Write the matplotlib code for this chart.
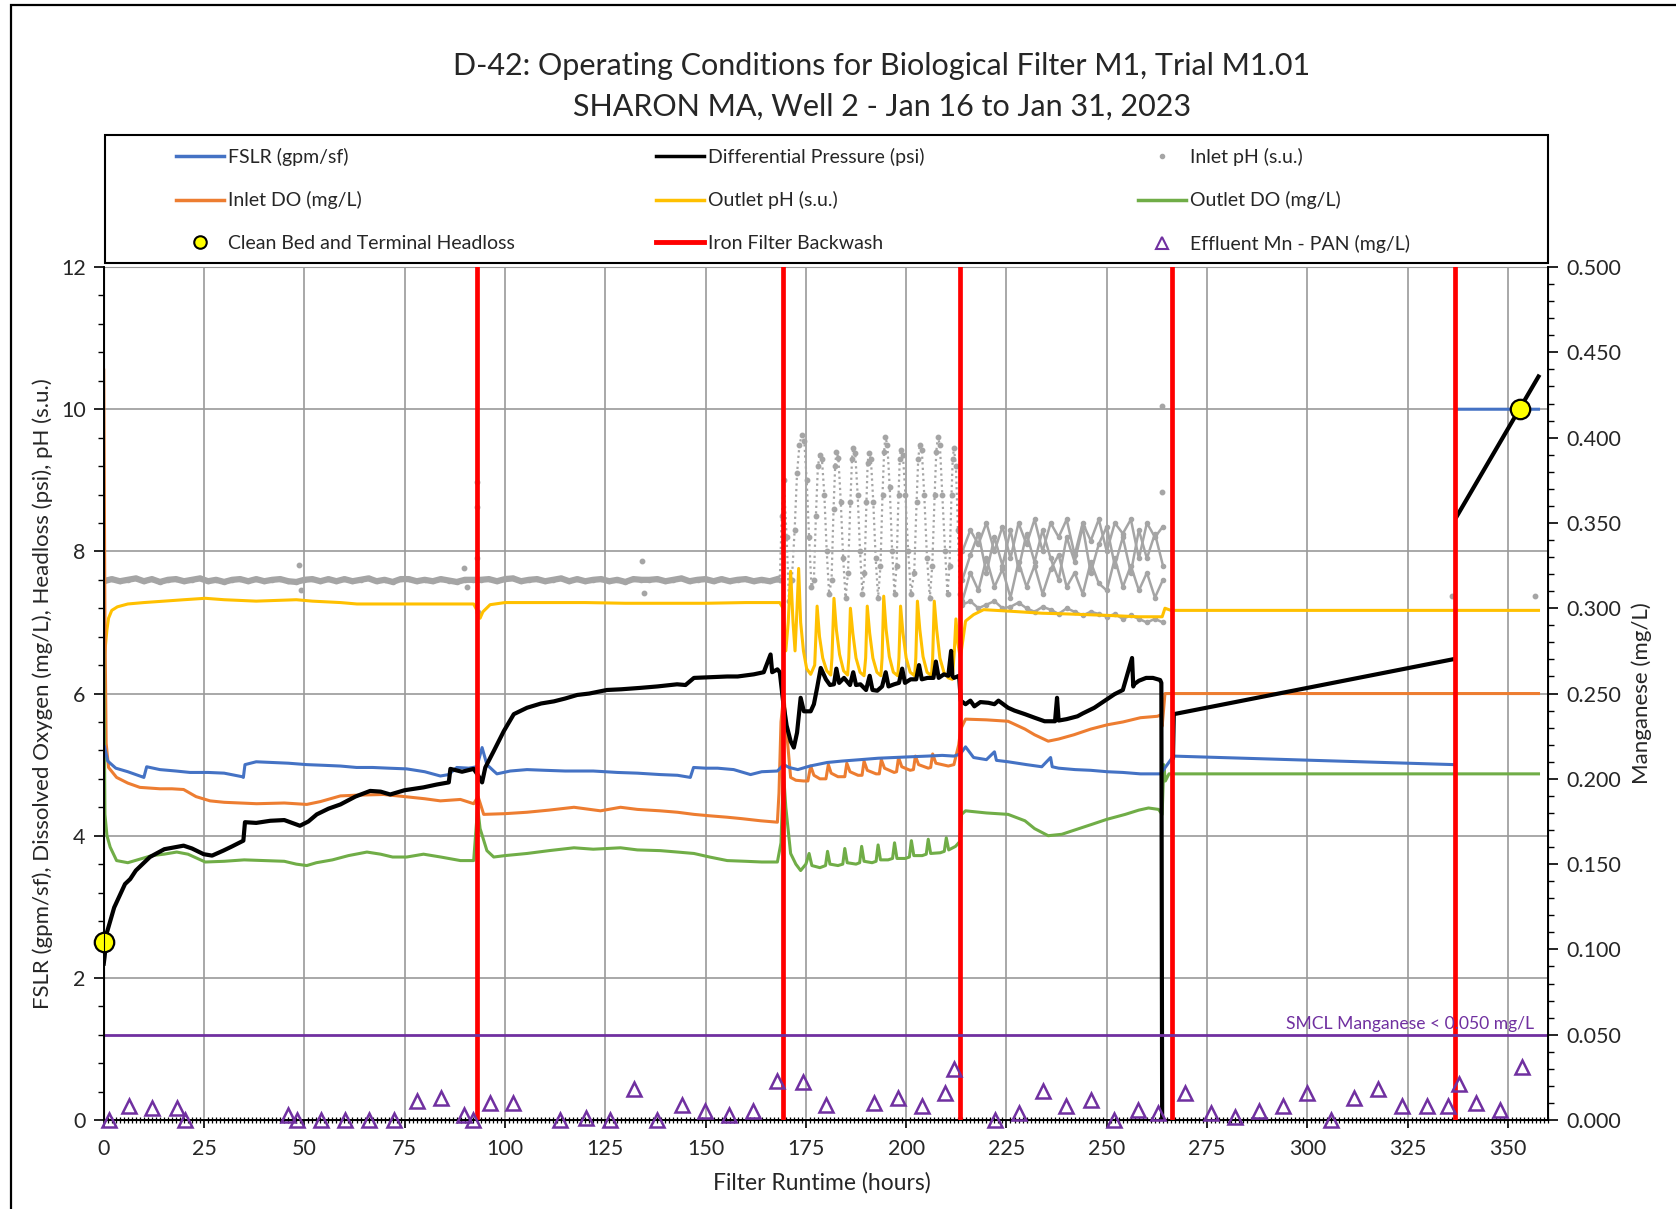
import numpy as np
import matplotlib
matplotlib.use("Agg")
from matplotlib import pyplot as plt
from matplotlib.lines import Line2D
from matplotlib.patches import Rectangle
from matplotlib.ticker import MultipleLocator, FormatStrFormatter

plt.rcParams['font.family'] = ['Lato', 'DejaVu Sans']

# ---- readings (hours, value) ----
fslr_h = [0.2, 1, 3, 6, 9.5, 10, 10.7, 14, 18, 21.5, 26, 30, 34.5, 34.8, 35.2, 38, 42, 46, 50.6, 55, 59, 63, 67, 71, 75.5, 80, 83.9, 86, 88, 91, 93, 94.3, 95.5, 97.2, 98, 101.3, 105.5, 110, 115, 122, 128, 133, 138.7, 143, 146.2, 147, 150, 153, 157, 161.2, 164, 167.9, 169.5, 170.8, 173, 176, 180.3, 184, 188.6, 193, 197, 201, 205.3, 209, 211.9, 213.5, 214.8, 216.8, 220, 222, 222.5, 225.4, 230, 233.8, 236, 236.4, 238, 242.1, 246, 250.1, 254, 258.4, 263.4, 263.8, 266.6, 336.6, np.nan, 337.2, 357.6]
fslr_v = [5.25, 5.05, 4.95, 4.9, 4.83, 4.82, 4.97, 4.93, 4.91, 4.89, 4.89, 4.88, 4.83, 4.82, 5.0, 5.04, 5.03, 5.02, 5.0, 4.99, 4.98, 4.96, 4.96, 4.95, 4.94, 4.9, 4.84, 4.86, 4.96, 4.95, 4.97, 5.24, 5.0, 4.91, 4.87, 4.91, 4.93, 4.92, 4.91, 4.91, 4.89, 4.88, 4.86, 4.85, 4.82, 4.96, 4.95, 4.95, 4.93, 4.86, 4.9, 4.91, 5.0, 4.96, 4.93, 4.98, 5.03, 5.05, 5.07, 5.09, 5.1, 5.11, 5.12, 5.13, 5.12, 5.15, 5.25, 5.1, 5.07, 5.18, 5.06, 5.04, 5.0, 4.97, 5.1, 4.97, 4.95, 4.93, 4.92, 4.9, 4.89, 4.87, 4.87, 4.9, 5.12, 5.0, np.nan, 10.0, 10.0]

dp_h = [0, 0.2, 0.8, 2.6, 5.3, 6.6, 8, 11.5, 15.1, 19.9, 22, 24.9, 27, 29.8, 32, 34.8, 35.2, 38, 41.5, 45, 48.9, 51, 53.1, 56, 59, 62.7, 66.4, 69, 71.4, 75, 79.7, 83, 86, 86.4, 89.3, 92.2, 93.3, 94.3, 95.1, 97.2, 99.7, 102.2, 105.5, 109, 112.2, 115, 118, 121, 125.4, 129, 133.8, 138, 142.9, 145, 147.1, 151, 155.4, 158, 162, 164.5, 166.2, 166.6, 167.9, 168.5, 169.3, 170.2, 171.2, 172, 172.8, 173.7, 174.5, 176.2, 177, 177.8, 178.7, 180, 181, 182, 182.6, 183.3, 184.5, 186, 186.8, 187.5, 188.6, 190, 190.9, 191.6, 192.8, 194, 194.9, 195.6, 197, 198.2, 199, 199.7, 201.1, 202.5, 203.2, 203.9, 205.3, 206.8, 207.4, 208.1, 209.4, 210.5, 211.2, 211.5, 211.9, 213.2, 213.6, 214.8, 216, 217, 218.5, 220.5, 222, 223, 225.4, 227, 229.6, 232, 234.5, 237.1, 237.6, 238, 240, 242.7, 244, 246.9, 249, 251.9, 254, 256.3, 256.6, 256.8, 258, 259.8, 261.5, 263.3, 263.6, 263.8, np.nan, 266.5, 266.7, 336.1, np.nan, 337.2, 357.6]
dp_v = [2.2, 2.29, 2.64, 2.99, 3.32, 3.39, 3.51, 3.7, 3.81, 3.86, 3.82, 3.74, 3.72, 3.79, 3.85, 3.93, 4.19, 4.18, 4.21, 4.22, 4.14, 4.2, 4.3, 4.38, 4.44, 4.55, 4.63, 4.62, 4.58, 4.64, 4.68, 4.72, 4.75, 4.94, 4.9, 4.94, 4.85, 4.75, 4.96, 5.19, 5.47, 5.71, 5.8, 5.86, 5.89, 5.93, 5.98, 6.0, 6.05, 6.06, 6.08, 6.1, 6.13, 6.12, 6.22, 6.23, 6.24, 6.24, 6.27, 6.3, 6.55, 6.3, 6.34, 6.3, 5.9, 5.55, 5.33, 5.24, 5.45, 5.94, 5.75, 5.75, 5.85, 6.08, 6.36, 6.2, 6.12, 6.13, 6.35, 6.15, 6.22, 6.12, 6.3, 6.12, 6.13, 6.05, 6.25, 6.05, 6.04, 6.1, 6.3, 6.1, 6.13, 6.15, 6.35, 6.15, 6.2, 6.2, 6.4, 6.2, 6.22, 6.22, 6.45, 6.22, 6.27, 6.25, 6.6, 6.25, 6.22, 6.25, 5.9, 5.85, 5.9, 5.82, 5.88, 5.87, 5.85, 5.9, 5.8, 5.76, 5.71, 5.66, 5.61, 5.61, 5.94, 5.62, 5.64, 5.68, 5.72, 5.8, 5.88, 5.99, 6.05, 6.5, 6.1, 6.13, 6.18, 6.22, 6.22, 6.19, 6.15, 0.0, np.nan, 5.1, 5.71, 6.48, np.nan, 8.49, 10.46]

indo_h = [0, 0.3, 0.6, 1.2, 3.2, 6, 9, 14, 17, 19.9, 23, 26.5, 30, 38.1, 45, 50.6, 54, 59, 63, 69.7, 75, 80, 83.9, 88.9, 92.2, 93.3, 94.7, 100, 105.5, 111, 117.2, 123.8, 128.8, 133, 138.7, 143, 147.1, 151, 155.4, 159, 163.7, 167.9, 168.3, 168.8, 169.5, 170.3, 171.2, 172.5, 174.4, 175.5, 176.2, 177, 178.5, 180, 180.6, 181.3, 183, 184.7, 185.2, 186, 188, 189, 189.5, 190.3, 192.5, 193.3, 193.8, 194.6, 197, 197.6, 198.1, 198.9, 201, 201.8, 202.3, 203.1, 205.5, 206.1, 206.6, 207.4, 210.5, 211.9, 213.1, 213.6, 214.8, 220, 225.4, 229.6, 232, 235.4, 238, 241.8, 246, 250.1, 254, 258.4, 262.6, 263.5, 263.8, 264.5, 357.6]
indo_v = [10.55, 7.0, 5.3, 4.96, 4.82, 4.74, 4.68, 4.66, 4.66, 4.65, 4.55, 4.49, 4.47, 4.45, 4.46, 4.44, 4.48, 4.56, 4.57, 4.58, 4.55, 4.52, 4.49, 4.51, 4.45, 4.55, 4.3, 4.31, 4.33, 4.36, 4.4, 4.35, 4.4, 4.37, 4.35, 4.33, 4.3, 4.28, 4.26, 4.24, 4.21, 4.19, 4.6, 5.6, 6.0, 5.4, 4.82, 4.78, 4.77, 4.77, 4.98, 4.85, 4.8, 4.8, 5.0, 4.88, 4.83, 4.83, 5.02, 4.9, 4.85, 4.85, 5.05, 4.92, 4.87, 4.87, 5.07, 4.95, 4.89, 4.9, 5.1, 4.97, 4.92, 4.93, 5.12, 5.0, 4.95, 4.96, 5.15, 5.02, 4.98, 5.0, 5.28, 5.5, 5.64, 5.63, 5.61, 5.5, 5.42, 5.33, 5.36, 5.42, 5.5, 5.56, 5.6, 5.66, 5.68, 5.7, 5.54, 6.0, 6.0]

outdo_h = [0, 0.3, 0.8, 1.6, 3.2, 6, 9, 12, 15, 18.2, 21, 25.3, 30, 35, 40, 45, 48, 50.6, 53, 57, 61, 65.6, 69, 72, 75.5, 79.7, 84, 88.9, 92.2, 93.2, 93.8, 95.5, 97.2, 100, 105.5, 111, 117.2, 122, 128.8, 133, 138.7, 143, 147.1, 151, 155.4, 160, 164, 167.9, 168.8, 169.4, 170, 171.2, 172.5, 173.7, 175, 175.8, 176.5, 178.5, 179.9, 180.4, 181, 183, 184.2, 184.7, 185.3, 187.5, 188.4, 188.9, 189.5, 191.5, 192.5, 193, 193.6, 195.5, 196.6, 197.1, 197.7, 199.8, 200.8, 201.3, 201.9, 204, 205, 205.5, 206.1, 208.5, 209.5, 210, 210.6, 212.3, 213.4, 213.8, 214.8, 220, 225.4, 229.6, 232, 235.4, 238.8, 242, 246.3, 250, 254.6, 258, 260.4, 262.9, 263.8, 264.2, 264.6, 265.5, 357.6]
outdo_v = [6.6, 4.3, 4.0, 3.84, 3.65, 3.62, 3.67, 3.72, 3.74, 3.77, 3.74, 3.63, 3.64, 3.66, 3.65, 3.64, 3.6, 3.58, 3.62, 3.66, 3.72, 3.77, 3.74, 3.7, 3.7, 3.74, 3.7, 3.65, 3.65, 4.4, 4.1, 3.79, 3.7, 3.72, 3.75, 3.79, 3.83, 3.81, 3.83, 3.8, 3.79, 3.77, 3.75, 3.7, 3.65, 3.64, 3.63, 3.63, 3.9, 4.9, 4.4, 3.75, 3.6, 3.51, 3.6, 3.75, 3.58, 3.55, 3.58, 3.78, 3.6, 3.58, 3.6, 3.82, 3.62, 3.6, 3.62, 3.85, 3.64, 3.62, 3.64, 3.87, 3.66, 3.66, 3.68, 3.9, 3.68, 3.68, 3.7, 3.93, 3.72, 3.72, 3.74, 3.95, 3.75, 3.76, 3.78, 3.97, 3.8, 3.85, 3.92, 4.3, 4.35, 4.32, 4.3, 4.21, 4.1, 4.0, 4.02, 4.08, 4.16, 4.23, 4.3, 4.36, 4.39, 4.37, 4.3, 5.0, 4.77, 4.87, 4.87]

outph_h = [0, 0.3, 0.8, 1.2, 2, 3.4, 6, 10, 15, 20, 25.3, 30, 38, 43, 48, 52, 59, 63.1, 70, 75.5, 83, 92.2, 93.2, 93.8, 94.5, 96.3, 100, 110, 120, 130, 140, 150, 160, 168.5, 169.3, 170, 170.6, 171.2, 171.8, 172.3, 172.8, 173.2, 173.7, 174.4, 175.2, 176.2, 177.2, 177.8, 178.4, 179.2, 180.2, 181.2, 181.5, 182, 182.6, 183.4, 184.4, 185.4, 185.7, 186.1, 186.7, 187.5, 188.5, 189.5, 189.9, 190.3, 190.9, 191.7, 192.7, 193.7, 194, 194.4, 195, 195.8, 196.8, 197.9, 198.2, 198.6, 199.2, 200, 201, 202.1, 202.4, 202.8, 203.4, 204.2, 205.2, 206.3, 206.6, 207, 207.6, 208.4, 209.4, 210.5, 211.5, 212, 212.4, 212.9, 213.5, 214.8, 216.8, 219.3, 225.4, 233.8, 240, 250, 258, 263.8, 264.5, 266, 357.6]
outph_v = [6.45, 6.6, 6.9, 7.06, 7.17, 7.22, 7.26, 7.28, 7.3, 7.32, 7.34, 7.32, 7.3, 7.31, 7.32, 7.3, 7.28, 7.26, 7.26, 7.26, 7.26, 7.26, 7.15, 7.06, 7.15, 7.25, 7.28, 7.28, 7.28, 7.27, 7.27, 7.27, 7.28, 7.28, 7.2, 6.6, 7.0, 7.72, 7.0, 6.6, 7.2, 7.76, 7.0, 6.6, 6.35, 6.27, 6.4, 7.23, 6.8, 6.5, 6.32, 6.26, 6.5, 7.34, 6.9, 6.55, 6.32, 6.26, 6.5, 7.2, 6.85, 6.5, 6.3, 6.25, 6.5, 7.23, 6.85, 6.5, 6.3, 6.25, 6.5, 7.37, 6.9, 6.52, 6.3, 6.25, 6.5, 7.23, 6.85, 6.5, 6.3, 6.25, 6.5, 7.3, 6.9, 6.52, 6.3, 6.25, 6.5, 7.3, 6.9, 6.5, 6.3, 6.22, 6.2, 6.6, 7.05, 6.7, 6.5, 7.02, 7.11, 7.18, 7.16, 7.13, 7.12, 7.1, 7.08, 7.08, 7.2, 7.17, 7.17]

# inlet pH: steady record up to the 169 h backwash
inph_h = [0, 2, 4, 6, 8, 10, 12, 14, 16, 18, 20, 22, 24, 26, 28, 30, 32, 34, 36, 38, 40, 42, 44, 46, 48, 50, 52, 54, 56, 58, 60, 62, 64, 66, 68, 70, 72, 74, 76, 78, 80, 82, 84, 86, 88, 90, 92, 94, 96, 98, 100, 102, 104, 106, 108, 110, 112, 114, 116, 118, 120, 122, 124, 126, 128, 130, 132, 134, 136, 138, 140, 142, 144, 146, 148, 150, 152, 154, 156, 158, 160, 162, 164, 166, 167.9]
inph_v = [7.58, 7.61, 7.58, 7.6, 7.62, 7.58, 7.61, 7.57, 7.6, 7.61, 7.58, 7.6, 7.62, 7.58, 7.6, 7.57, 7.6, 7.61, 7.58, 7.61, 7.58, 7.6, 7.61, 7.58, 7.57, 7.6, 7.61, 7.58, 7.61, 7.58, 7.61, 7.58, 7.6, 7.62, 7.58, 7.6, 7.57, 7.61, 7.61, 7.58, 7.6, 7.58, 7.61, 7.59, 7.57, 7.6, 7.6, 7.6, 7.61, 7.58, 7.61, 7.62, 7.58, 7.6, 7.61, 7.58, 7.6, 7.62, 7.58, 7.61, 7.58, 7.6, 7.61, 7.58, 7.6, 7.57, 7.61, 7.6, 7.6, 7.61, 7.58, 7.6, 7.62, 7.58, 7.6, 7.61, 7.58, 7.61, 7.58, 7.6, 7.61, 7.58, 7.6, 7.58, 7.61]
# inlet pH cycling between the 169 h and 213 h backwashes
cyc_h = [167.9, 168.5, 169, 169.5, 170.2, 170.8, 171.5, 172.2, 172.8, 173.4, 174, 174.6, 175.2, 175.8, 176.4, 177, 177.5, 178, 178.5, 179, 179.6, 180.2, 180.8, 181.4, 181.9, 182.3, 182.6, 183.1, 183.7, 184.3, 184.9, 185.5, 186.1, 186.5, 186.8, 187.3, 187.9, 188.5, 189.1, 189.6, 190.1, 190.4, 190.7, 191.2, 191.8, 192.4, 193, 193.6, 194.1, 194.5, 194.8, 195.3, 195.9, 196.5, 197.1, 197.6, 198.1, 198.4, 198.7, 199.2, 199.8, 200.5, 201.2, 202, 202.6, 203, 203.4, 203.9, 204.5, 205.2, 205.9, 206.5, 207.1, 207.5, 207.9, 208.4, 209, 209.7, 210.3, 210.8, 211.3, 211.6, 211.9, 212.4, 212.9, 213.4]
cyc_v = [7.61, 7.6, 8.5, 9.0, 8.2, 7.3, 7.6, 8.3, 9.1, 9.5, 9.64, 9.55, 9.0, 8.2, 7.5, 7.6, 8.5, 9.2, 9.36, 9.3, 8.8, 8.0, 7.4, 7.6, 8.6, 9.2, 9.4, 9.32, 8.7, 7.9, 7.35, 7.7, 8.7, 9.3, 9.45, 9.38, 8.8, 8.0, 7.4, 7.7, 8.7, 9.25, 9.38, 9.3, 8.7, 7.9, 7.35, 7.8, 8.8, 9.4, 9.61, 9.5, 8.9, 8.0, 7.4, 7.8, 8.8, 9.3, 9.43, 9.35, 8.8, 8.0, 7.4, 7.7, 8.7, 9.3, 9.5, 9.42, 8.8, 7.9, 7.35, 7.8, 8.8, 9.4, 9.61, 9.5, 8.8, 8.0, 7.4, 7.8, 8.8, 9.3, 9.45, 9.2, 8.3, 7.4]

# inlet pH after the 213 h backwash: four interleaved sensor traces
mesh_h = [214, 216, 218, 220, 222, 224, 226, 228, 230, 232, 234, 236, 238, 240, 242, 244, 246, 248, 250, 252, 254, 256, 258, 260, 262, 264]
mesh_a = [8.0, 8.3, 8.1, 8.4, 8.0, 8.35, 7.9, 8.4, 8.1, 8.45, 8.0, 8.4, 8.2, 8.45, 7.95, 8.4, 8.15, 8.45, 8.0, 8.4, 8.25, 8.45, 7.9, 8.4, 8.2, 8.35]
mesh_b = [7.6, 7.95, 8.25, 7.7, 8.2, 7.8, 8.3, 7.75, 8.25, 7.85, 8.3, 7.9, 7.6, 8.2, 7.85, 8.35, 7.7, 8.1, 8.35, 7.8, 8.2, 7.7, 8.3, 7.9, 8.25, 7.8]
mesh_c = [7.3, 7.7, 7.45, 7.9, 7.5, 7.75, 7.35, 7.85, 7.5, 7.8, 7.4, 7.75, 7.95, 7.5, 7.7, 7.4, 7.85, 7.55, 7.45, 7.9, 7.5, 7.8, 7.45, 7.7, 7.35, 7.6]
mesh_d = [7.25, 7.3, 7.2, 7.25, 7.3, 7.2, 7.22, 7.28, 7.2, 7.15, 7.22, 7.18, 7.12, 7.2, 7.15, 7.1, 7.15, 7.12, 7.08, 7.12, 7.05, 7.1, 7.05, 7.0, 7.05, 7.0]
# isolated inlet pH readings off the main record
inph_lone_h = [48.6, 49.2, 89.7, 90.5, 93.0, 93.0, 93.1, 93.2, 134.2, 134.6, 263.7, 263.7, 336.0, 356.7]
inph_lone_v = [7.81, 7.45, 7.77, 7.5, 8.98, 8.63, 7.9, 7.15, 7.86, 7.42, 10.04, 8.84, 7.37, 7.37]

headloss_h = [0, 352.9]
headloss_v = [2.5, 10.0]

backwash_h = [93.0, 169.2, 213.5, 266.3, 336.9]

mn_h = [1.3, 6.2, 12.0, 18.2, 20.3, 45.8, 48.1, 54.1, 60.1, 66.1, 72.3, 78.2, 84.1, 89.9, 92.1, 96.2, 101.9, 113.7, 120.2, 126.3, 132.2, 138.0, 144.1, 149.9, 155.9, 161.9, 167.7, 174.2, 179.9, 192.0, 198.0, 203.9, 209.7, 211.8, 222.2, 228.1, 234.0, 239.8, 246.1, 251.8, 257.9, 262.7, 269.6, 276.0, 281.9, 287.9, 293.9, 299.9, 305.9, 311.6, 317.7, 323.7, 329.9, 335.0, 337.9, 341.9, 347.9, 353.6]
mn_v = [0.0, 0.008, 0.007, 0.007, 0.0, 0.003, 0.0, 0.0, 0.0, 0.0, 0.0, 0.011, 0.013, 0.003, 0.0, 0.010, 0.010, 0.0, 0.001, 0.0, 0.018, 0.0, 0.009, 0.005, 0.003, 0.005, 0.023, 0.022, 0.009, 0.010, 0.013, 0.008, 0.016, 0.030, 0.0, 0.004, 0.017, 0.008, 0.012, 0.0, 0.006, 0.004, 0.016, 0.004, 0.002, 0.005, 0.008, 0.016, 0.0, 0.013, 0.018, 0.008, 0.008, 0.008, 0.021, 0.010, 0.006, 0.031]
smcl_mn = 0.050

C_BLUE, C_ORANGE, C_GOLD, C_GREEN = '#4472C4', '#ED7D31', '#FFC000', '#70AD47'
C_GREY, C_RED, C_PURPLE = '#A5A5A5', '#FF0000', '#7030A0'
TXT = '#262626'

fig = plt.figure(figsize=(16.76, 12.09), dpi=100)
ax = fig.add_axes([0.0619, 0.0736, 0.8618, 0.7055])
ax2 = ax.twinx()

# data lines
ax.plot(inph_h, inph_v, color=C_GREY, lw=4.5, marker='o', ms=3, zorder=2)
ax.plot(cyc_h, cyc_v, color=C_GREY, lw=1.6, ls=(0, (1, 1.5)), marker='o', ms=3.2, zorder=2)
for tr in (mesh_a, mesh_b, mesh_c, mesh_d):
    ax.plot(mesh_h, tr, color=C_GREY, lw=1.8, marker='o', ms=3, zorder=2)
ax.plot(inph_lone_h, inph_lone_v, ls='none', marker='o', ms=3.2, color=C_GREY, zorder=2)
ax.plot(outph_h, outph_v, color=C_GOLD, lw=2.2, zorder=3)
ax.plot(indo_h, indo_v, color=C_ORANGE, lw=2.2, zorder=3)
ax.plot(outdo_h, outdo_v, color=C_GREEN, lw=2.2, zorder=3)
ax.plot(fslr_h, fslr_v, color=C_BLUE, lw=2.2, zorder=3)
ax.plot(dp_h, dp_v, color='black', lw=3, zorder=4)

for h in backwash_h:
    ax.axvline(h, color=C_RED, lw=3.4, zorder=5)

ax.plot(headloss_h, headloss_v, ls='none', marker='o', ms=14, mfc='#FFFF00',
        mec='black', mew=1.6, zorder=7, clip_on=False)

# manganese on the secondary axis
ax2.axhline(smcl_mn, color=C_PURPLE, lw=2, zorder=2)
ax2.text(356.5, smcl_mn + 0.0015, 'SMCL Manganese < 0.050 mg/L', color=C_PURPLE,
         fontsize=12.6, ha='right', va='bottom')
ax2.plot(mn_h, mn_v, ls='none', marker='^', ms=10.5, mfc='none', mec=C_PURPLE,
         mew=1.8, zorder=6, clip_on=False)

# axes styling
ax.set_xlim(0, 360)
ax.set_ylim(0, 12)
ax2.set_ylim(0, 0.5)
ax.xaxis.set_major_locator(MultipleLocator(25))
ax.xaxis.set_minor_locator(MultipleLocator(1))
ax.yaxis.set_major_locator(MultipleLocator(2))
ax.yaxis.set_minor_locator(MultipleLocator(0.4))
ax2.yaxis.set_major_locator(MultipleLocator(0.05))
ax2.yaxis.set_minor_locator(MultipleLocator(0.01))
ax2.yaxis.set_major_formatter(FormatStrFormatter('%.3f'))

ax.grid(True, which='major', color='#9A9A9A', lw=1.2)
ax.set_axisbelow(True)
for sp in ('left', 'bottom'):
    ax.spines[sp].set_color('black')
    ax.spines[sp].set_linewidth(1.4)
ax.spines['top'].set_color('#9A9A9A')
ax2.spines['top'].set_visible(False)
ax2.spines['right'].set_color('black')
ax2.spines['right'].set_linewidth(1.4)

ax.tick_params(axis='x', which='major', direction='out', length=6, width=1.2, pad=8,
               labelsize=15.5, labelcolor=TXT)
ax.tick_params(axis='x', which='minor', direction='inout', length=5, width=0.9)
ax.tick_params(axis='y', which='major', direction='out', length=7, width=1.2, pad=6,
               labelsize=15.5, labelcolor=TXT)
ax.tick_params(axis='y', which='minor', direction='out', length=4, width=1)
ax2.tick_params(axis='y', which='major', direction='out', length=7, width=1.2, pad=6,
                labelsize=15.5, labelcolor=TXT)
ax2.tick_params(axis='y', which='minor', direction='out', length=4, width=1)

ax.set_xlabel('Filter Runtime (hours)', fontsize=16.5, color=TXT)
ax.xaxis.set_label_coords(0.497, -0.061)
ax.set_ylabel('FSLR (gpm/sf), Dissolved Oxygen (mg/L), Headloss (psi), pH (s.u.)',
              fontsize=16, color=TXT)
ax.yaxis.set_label_coords(-0.035, 0.5)
ax2.set_ylabel('Manganese (mg/L)', fontsize=16, color=TXT, rotation=90)
ax2.yaxis.set_label_coords(1.058, 0.5)

# titles
fig.text(0.526, 1 - 66 / 1209, 'D-42: Operating Conditions for Biological Filter M1, Trial M1.01',
         ha='center', va='center', fontsize=22, color=TXT)
fig.text(0.526, 1 - 107 / 1209, 'SHARON MA, Well 2 - Jan 16 to Jan 31, 2023',
         ha='center', va='center', fontsize=22, color=TXT)

# legend box with three columns
fig.patches.append(Rectangle((105 / 1676, 1 - 263 / 1209), (1548 - 105) / 1676, 128 / 1209,
                             transform=fig.transFigure, fill=False, ec='black', lw=1.5))
cols = [
    [Line2D([], [], color=C_BLUE, lw=2.5), Line2D([], [], color=C_ORANGE, lw=2.5),
     Line2D([], [], ls='none', marker='o', ms=9, mfc='#FFFF00', mec='black', mew=1.5)],
    [Line2D([], [], color='black', lw=2.5), Line2D([], [], color=C_GOLD, lw=2.5),
     Line2D([], [], color=C_RED, lw=3.5)],
    [Line2D([], [], ls='none', marker='o', ms=3, color=C_GREY), Line2D([], [], color=C_GREEN, lw=2.5),
     Line2D([], [], ls='none', marker='^', ms=9, mfc='none', mec=C_PURPLE, mew=1.5)],
]
labels = [
    ['FSLR (gpm/sf)', 'Inlet DO (mg/L)', 'Clean Bed and Terminal Headloss'],
    ['Differential Pressure (psi)', 'Outlet pH (s.u.)', 'Iron Filter Backwash'],
    ['Inlet pH (s.u.)', 'Outlet DO (mg/L)', 'Effluent Mn - PAN (mg/L)'],
]
for x0, hs, ls in zip([176, 656, 1138], cols, labels):
    fig.legend(hs, ls, loc='upper left', bbox_to_anchor=(x0 / 1676, 1 - 148 / 1209),
               frameon=False, fontsize=14, handlelength=2.47, handletextpad=0.2,
               labelspacing=1.3, borderpad=0, borderaxespad=0, labelcolor=TXT)

# outer frame
fig.patches.append(Rectangle((0.0064, -0.05), 1.1, 0.9956 + 0.05, transform=fig.transFigure,
                             fill=False, ec='black', lw=1.6))

fig.savefig('out.png', dpi=100)
